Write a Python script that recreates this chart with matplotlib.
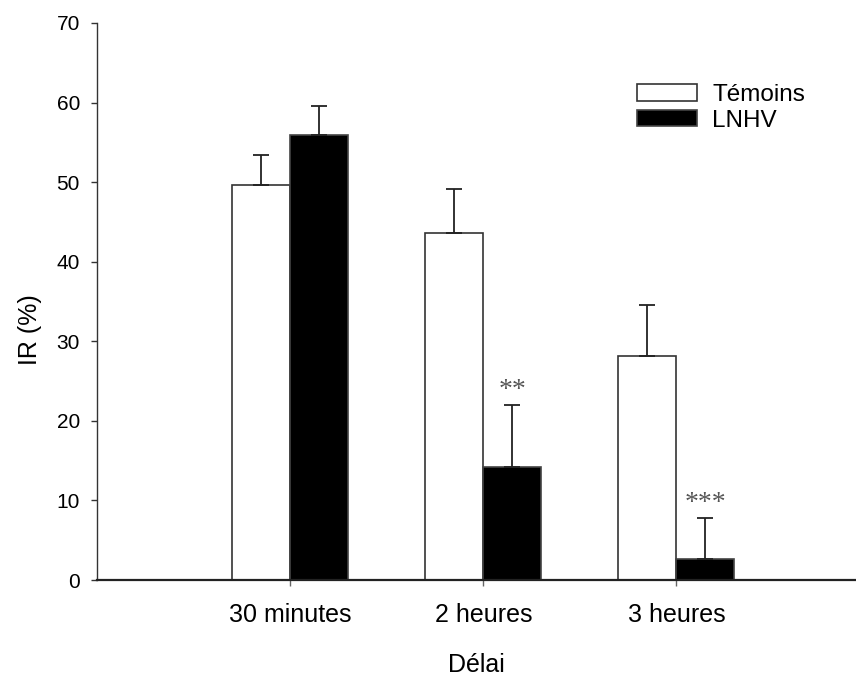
import matplotlib
matplotlib.use("Agg")
import matplotlib.pyplot as plt
import numpy as np

plt.rcParams['font.family'] = ['Liberation Sans', 'DejaVu Sans']

# Données : indice de reconnaissance (%) par délai
categories = ['30 minutes', '2 heures', '3 heures']
temoins = [49.6, 43.6, 28.2]
temoins_err = [3.8, 5.6, 6.3]
lnhv = [55.9, 14.2, 2.7]
lnhv_err = [3.7, 7.8, 5.1]
significance = ['', '**', '***']
y_ticks = [0, 10, 20, 30, 40, 50, 60, 70]

W, H = 856, 677
fig = plt.figure(figsize=(W / 100, H / 100), dpi=100)
ax = fig.add_axes([97 / W, 1 - 580 / H, 759 / W, 557 / H])

x = np.arange(1, len(categories) + 1)
width = 0.3

ax.bar(x - width / 2, temoins, width, color='white', edgecolor='#333333',
       linewidth=1.2, label='Témoins', zorder=2)
ax.bar(x + width / 2, lnhv, width, color='black', edgecolor='#444444',
       linewidth=1.2, label='LNHV', zorder=2)

# barres d'erreur vers le haut uniquement
ax.errorbar(x - width / 2, temoins, yerr=[np.zeros(len(x)), temoins_err],
            fmt='none', ecolor='#222222', elinewidth=1.3, capsize=5.8,
            capthick=1.3, zorder=3)
ax.errorbar(x + width / 2, lnhv, yerr=[np.zeros(len(x)), lnhv_err],
            fmt='none', ecolor='#222222', elinewidth=1.3, capsize=5.8,
            capthick=1.3, zorder=3)

for xi, m, e, s in zip(x, lnhv, lnhv_err, significance):
    if s:
        ax.text(xi + width / 2, m + e + 1.0, s, ha='center', va='baseline',
                family=['Liberation Serif', 'DejaVu Serif'], fontsize=20,
                color='#555555')

ax.set_xlim(0, 3.93)
ax.set_ylim(0, 70)
ax.set_yticks(y_ticks)
ax.set_xticks(x)
ax.set_xticklabels(categories)

for side in ('top', 'right'):
    ax.spines[side].set_visible(False)
ax.spines['left'].set_color('#333333')
ax.spines['left'].set_linewidth(1.0)
ax.spines['bottom'].set_color('#222222')
ax.spines['bottom'].set_linewidth(1.6)

ax.tick_params(axis='y', direction='out', length=4.3, width=1.0,
               color='#333333', labelsize=15, pad=8)
ax.tick_params(axis='x', direction='out', length=4.3, width=1.0,
               color='#666666', labelsize=18, pad=12)

ax.set_xlabel('Délai', fontsize=18, labelpad=19)
ax.set_ylabel('IR (%)', fontsize=18, va='center')
ax.yaxis.set_label_coords(-0.088, 0.45)

ax.legend(loc='upper left', bbox_to_anchor=(637 / W, 1 - 84 / H),
          bbox_transform=fig.transFigure, frameon=False, fontsize=17.5,
          handlelength=2.45, handleheight=0.65, handletextpad=0.65,
          labelspacing=0.15, borderpad=0, borderaxespad=0)

fig.savefig('out.png', dpi=100)
